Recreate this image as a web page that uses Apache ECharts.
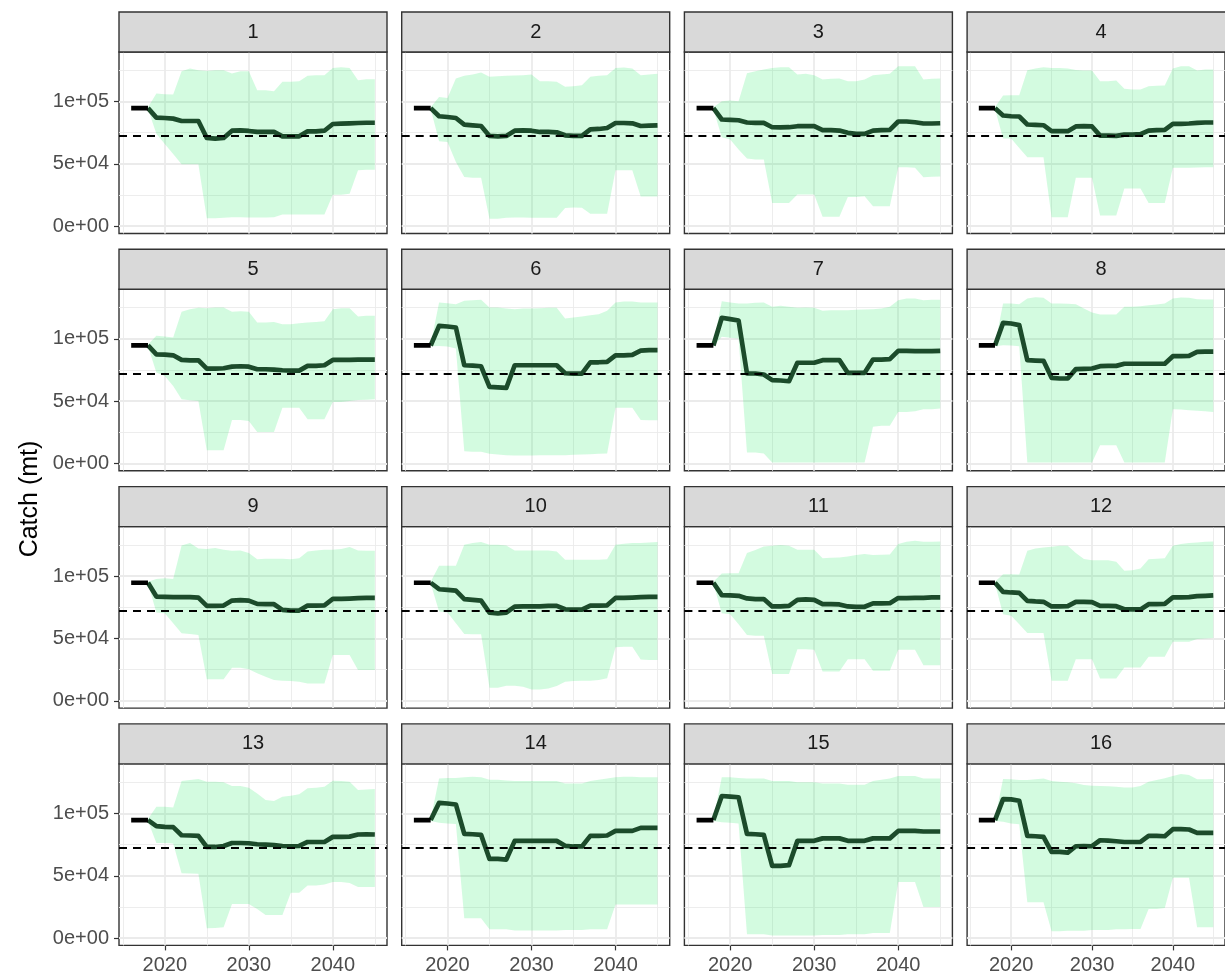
<!DOCTYPE html>
<html><head><meta charset="utf-8">
<script src="https://cdn.jsdelivr.net/npm/echarts@6/dist/echarts.min.js"></script>
<style>html,body{margin:0;padding:0;background:#fff}#c{width:1225px;height:978px}</style>
</head><body><div id="c"></div>
<script>
// ---------- data ----------
const histYears = [2016, 2017, 2018];
const histCatch = [94700, 94700, 94700];
const projYears = [2018,2019,2020,2021,2022,2023,2024,2025,2026,2027,2028,2029,2030,2031,2032,2033,2034,2035,2036,2037,2038,2039,2040,2041,2042,2043,2044,2045];
const refCatch = 72300;
const panelNames = ['1','2','3','4','5','6','7','8','9','10','11','12','13','14','15','16'];
const xMajor = [2020, 2030, 2040];
const xMinor = [2015, 2025, 2035, 2045];
const xTickLabels = ['2020', '2030', '2040'];
const yMajor = [0, 50000, 100000];
const yMinor = [25000, 75000, 125000];
const yTickLabels = ['0e+00', '5e+04', '1e+05'];
const axisTitle = 'Catch (mt)';

const med1 = [94700,87100,86800,86300,84400,84400,84400,70800,70200,70800,76600,76900,76400,75600,75600,75600,72100,72100,72100,76100,76100,76600,82000,82300,82500,82800,83000,83000];
const hi1  = [95500,106400,105900,105600,124400,126500,125200,124600,125200,125200,122500,124400,124400,109100,109100,108300,115800,115800,116300,120600,121100,121100,127000,127600,127000,117100,117900,117900];
const lo1  = [94000,74200,66000,58000,49600,49600,49600,6400,6400,6700,7200,7200,7000,7000,7000,7200,9400,9400,9400,9400,9400,9400,25200,25200,26000,44800,45300,45300];

const med2 = [94700,88200,87600,86800,81500,80900,80400,72400,72100,72400,76600,76900,76600,75600,75600,75300,72900,72400,72400,77700,78000,78800,82800,82800,82500,80400,80700,80900];
const hi2  = [95500,103700,102900,118500,120600,121700,123300,119800,120300,120600,120900,121100,121700,116300,116300,115800,111800,112300,113100,119800,120600,121100,127000,127300,126500,121100,121700,122200];
const lo2  = [94000,68100,67500,51500,39400,38900,38900,5900,5900,6700,7000,7000,6700,6700,6700,6700,14500,15000,14700,9900,9900,9900,44800,44800,44800,23900,23900,23900];

const med3 = [94700,85600,85300,85000,83200,82900,82900,79400,79200,79400,80200,80200,80200,77000,77000,76700,74900,74100,74100,76700,77000,77300,84000,84000,83400,82400,82400,82600];
const hi3  = [95500,100300,100800,100300,122700,124300,125700,127000,127500,127500,121700,122200,121100,117700,118200,118500,116300,116300,117700,121100,121700,122200,128400,128400,128400,117700,118200,118500];
const lo3  = [94000,71400,69500,61500,54300,53500,53500,18700,18700,18700,25400,25400,25400,7500,7500,7500,23500,23500,24100,16000,16000,16000,47300,47300,46800,39300,39600,39800];

const med4 = [94700,88800,88200,88000,81600,81300,81000,76200,76200,76200,80000,80200,80000,72700,72700,72500,73500,73500,73800,76700,77000,77300,82100,82100,82400,82900,83200,83200];
const hi4  = [95500,104800,105100,105100,125100,126500,127500,127000,127000,126500,125400,124900,124900,116300,116300,116900,110200,109600,109600,112300,112600,112900,126500,128400,128400,124900,125700,125700];
const lo4  = [94000,70300,70300,62800,55400,55400,55400,7200,7200,7200,38800,38800,38800,8600,8600,8600,30200,30200,30200,18700,18700,18700,46800,46800,46800,47100,47300,47300];

const med5 = [94700,87600,87400,86800,83100,82800,82800,76100,76100,76400,77700,78000,77700,75600,75600,75300,74800,74500,74500,78300,78300,78800,83100,83100,83100,83300,83300,83300];
const hi5  = [95500,102400,101800,101000,121700,123800,124900,124600,125200,125200,121700,122200,121700,113100,113100,113600,111800,111800,112600,113100,113600,114200,123800,124600,124600,117900,118500,118500];
const lo5  = [94000,72900,70200,62200,51500,50700,50100,10700,10700,10700,34800,34800,34000,25200,25200,25200,44800,44800,44800,35400,35400,35400,49300,49300,50100,50900,51200,51500];

const med6 = [94700,110400,109900,109100,78800,78500,78000,61400,61100,60600,78800,78800,78800,78800,78800,78800,72400,72100,72100,81200,81200,81500,86800,86800,87100,90600,90900,90900];
const hi6  = [95500,129200,128600,127800,130500,131000,131300,125200,125200,124400,123800,124400,124400,124600,124900,124900,116300,117100,117900,119000,119800,122500,129200,130000,130000,129200,129200,129200];
const lo6  = [94000,94300,93800,92200,9900,9400,9400,7800,7200,6700,6400,6400,6400,6700,6700,6700,6700,7000,7200,7500,7800,8000,44800,44800,44800,34800,34600,34600];

const med7 = [94700,116900,115800,114700,72200,72200,71400,66900,66600,66000,80800,80800,80800,82900,82900,82900,72700,72700,72700,83400,83400,83700,90400,90400,90100,90100,90100,90400];
const hi7  = [95500,130200,129200,128400,128400,128900,129200,125700,126500,125700,124900,125100,124900,122500,123000,123000,123000,123300,123500,123800,124300,125700,131000,132400,132400,131000,131300,131300];
const lo7  = [94000,101600,100800,100300,8800,8800,8000,800,800,800,800,800,800,800,800,800,800,800,800,29400,30200,30200,41400,41400,42000,43600,43600,44100];

const med8 = [94700,112800,112300,111000,82900,82600,82400,68700,68200,68200,75700,75900,76200,78100,78300,78300,80000,80000,80000,80000,80000,80000,86100,86100,86400,89600,89800,89800];
const hi8  = [95500,128400,128400,127800,132400,133400,132900,128400,128400,128100,127800,124300,121100,119500,119500,119500,125700,125700,126200,127000,127500,128400,132400,133200,132900,131800,131600,131600];
const lo8  = [94000,94900,94600,94100,800,800,800,800,800,800,800,800,800,14700,14700,14700,800,800,800,800,800,800,43600,43300,42800,42300,42000,41400];

const med9 = [94700,83600,83300,83100,83100,83100,82800,76100,76100,76400,80400,80700,80400,77700,77500,77500,72900,72400,72400,76400,76400,76600,81700,81700,82000,82300,82500,82500];
const hi9  = [95500,97800,98400,97800,124600,126500,122200,121700,122500,121100,120300,120600,118500,113600,113900,113900,113900,113600,114400,119800,120600,121100,121100,121700,123300,120600,120300,120300];
const lo9  = [94000,70800,70200,62200,54100,53600,52800,17200,17200,17200,26500,26500,25200,22000,19300,16600,16100,15800,15300,13900,13900,13900,36700,36700,36700,24700,24700,24700];

const med10 = [94700,89500,89000,88400,81500,80900,80400,70800,70200,70800,75600,75800,75800,75800,76100,76100,73400,73200,73200,76400,76400,76600,82500,82500,82800,83100,83300,83300];
const hi10  = [95500,108300,108300,108300,125200,126500,127300,125200,125200,124600,120600,120600,120600,120600,120600,119800,113100,113100,113100,113100,113100,113600,125200,126000,126500,126500,127000,127300];
const lo10  = [94000,71600,70800,62200,53600,53300,53300,10500,10500,12100,12100,11300,9100,9100,9900,11800,15300,15800,16100,16100,16600,18000,42900,43400,43400,33200,32700,32700];

const med11 = [94700,84800,84500,84200,82100,81600,81600,75700,75700,76200,81000,81300,81000,77500,77500,77300,75700,75400,75400,78100,78100,78300,82400,82400,82600,82600,82900,82900];
const hi11  = [95500,102100,102400,102400,118500,120900,123800,124300,124900,124300,121100,121100,121100,114400,114700,115000,115800,116900,117700,116900,117100,117400,125700,127500,128400,127500,127500,127800];
const lo11  = [94000,70300,69500,61500,52700,52100,52100,21400,21400,21400,41400,41400,40900,23500,23500,23500,33400,33400,33400,24100,24100,24100,40900,40900,40900,28600,28600,28600];

const med12 = [94700,87400,86900,86600,80200,79700,79400,75700,75700,75900,79400,79400,79200,76200,76200,75900,73500,73300,73300,77500,77500,77800,82900,82900,83200,84000,84200,84500];
const hi12  = [95500,101600,101600,101300,120300,122200,123000,123500,124300,124300,118500,113700,112800,112800,112800,111500,104300,104800,106200,113600,113900,114400,124300,125700,126500,127000,127500,127800];
const lo12  = [94000,69500,68200,61500,54300,54300,54300,16000,16000,16000,33400,33400,33400,17900,17900,17900,26700,26700,26700,35300,35300,35300,47300,47300,47300,49500,50000,50300];

const med13 = [94700,89800,89200,89000,82500,82300,82000,73100,73100,73900,76300,76300,76100,75300,75000,74700,73900,73700,73900,77100,77100,77100,81200,81200,81400,83100,83300,83100];
const hi13  = [95500,105400,105400,104800,126100,126900,127700,125500,125500,125000,122000,122000,120700,116100,110700,109900,113400,114200,115300,120200,120700,121500,126300,126100,125500,118800,119300,119600];
const lo13  = [94000,76300,76300,75800,52100,51900,51600,7800,8100,8600,27400,27400,27400,23400,18500,18500,18500,36300,36300,42200,42200,43000,44900,44900,44100,40900,40900,40900];

const med14 = [94700,108500,108000,107200,83600,83300,82800,63500,63500,63000,78000,78000,78000,78000,78000,78000,74000,73500,73500,82000,82000,82300,86000,86000,86000,88400,88400,88400];
const hi14  = [95500,128000,128500,128500,129000,129500,129000,127000,127000,126500,126000,126000,126000,126000,126000,126000,124000,124000,124000,126000,127000,128000,129000,129500,129500,129000,129000,129000];
const lo14  = [94000,92500,92000,91500,16000,16000,16000,7000,7000,7000,6000,6000,6000,6000,6000,6000,6500,6500,6500,7000,7000,7000,27000,27000,27000,27000,27000,27000];

const med15 = [94700,114000,113500,113000,83600,83300,82800,58000,58000,58500,78000,78000,78000,80000,80000,80000,78000,78000,78000,80000,80000,80000,86000,86000,86000,85500,85500,85500];
const hi15  = [95500,129000,129000,128500,128000,128000,128000,126000,126000,126000,125000,125000,125000,124000,124000,124000,123000,123000,123000,126000,127000,128000,130000,130000,130000,128000,128000,128000];
const lo15  = [94000,93000,92500,92000,3000,3000,3000,2000,2000,2000,2000,2000,2000,2500,2500,2500,3000,3000,3000,4000,4000,4000,45000,45000,45000,25000,25000,25000];

const med16 = [94700,111500,111300,110200,82000,81700,81200,69100,69100,68500,73700,73900,73700,78500,78200,77700,77100,77100,77100,82000,82000,81700,87400,87400,87100,84400,84400,84400];
const hi16  = [95500,127700,127400,126900,126900,127400,128000,126100,125500,125000,124200,122800,122300,122000,121800,121500,120900,120900,122000,125500,126900,128200,130100,131700,130900,127400,127400,127700];
const lo16  = [94000,93300,91900,91400,28800,28800,28800,5400,5400,5900,5900,5900,6500,6500,6500,7000,7000,7300,7300,23400,23400,24200,48400,48400,48400,8600,8600,8600];

const medians = [med1,med2,med3,med4,med5,med6,med7,med8,med9,med10,med11,med12,med13,med14,med15,med16];
const uppers  = [hi1,hi2,hi3,hi4,hi5,hi6,hi7,hi8,hi9,hi10,hi11,hi12,hi13,hi14,hi15,hi16];
const lowers  = [lo1,lo2,lo3,lo4,lo5,lo6,lo7,lo8,lo9,lo10,lo11,lo12,lo13,lo14,lo15,lo16];

// ---------- layout & style ----------
const X_MIN = 2014.55, X_MAX = 2046.45;
const Y_MIN = -5870, Y_MAX = 139750;
const L0 = 119, T0 = 52, DX = 282.7, DY = 237.3, W = 268, H = 181.5, STRIP = 40;
const FONT = 'Liberation Sans, Arial, sans-serif';
const BAND = 'rgba(20,235,90,0.19)';
const MED = '#1C4B2B';
const GRIDC = '#EBEBEB';

const grid = [], xAxis = [], yAxis = [], series = [], graphic = [];

const gridLines = [].concat(
  xMajor.map(v => ({ xAxis: v, lineStyle: { width: 1.8 } })),
  xMinor.map(v => ({ xAxis: v, lineStyle: { width: 0.9 } })),
  yMajor.map(v => ({ yAxis: v, lineStyle: { width: 1.8 } })),
  yMinor.map(v => ({ yAxis: v, lineStyle: { width: 0.9 } }))
);

for (let k = 0; k < 16; k++) {
  const r = Math.floor(k / 4), c = k % 4;
  const left = L0 + c * DX, top = T0 + r * DY;
  const isBottom = r === 3, isLeft = c === 0;
  grid.push({ left: left, top: top, width: W, height: H, show: true, backgroundColor: '#FFFFFF',
    borderColor: '#333333', borderWidth: 1.4, containLabel: false });
  xAxis.push({ type: 'value', gridIndex: k, min: X_MIN, max: X_MAX,
    splitLine: { show: false }, axisLine: { show: false, onZero: false },
    axisTick: { show: isBottom, customValues: xMajor, length: 5, lineStyle: { color: '#333333', width: 1.2 } },
    axisLabel: { show: isBottom, customValues: xMajor, margin: 10, fontSize: 20, color: '#4D4D4D', fontFamily: FONT,
      formatter: v => { const i = xMajor.indexOf(v); return i >= 0 ? xTickLabels[i] : ''; } } });
  yAxis.push({ type: 'value', gridIndex: k, min: Y_MIN, max: Y_MAX,
    splitLine: { show: false }, axisLine: { show: false, onZero: false },
    axisTick: { show: isLeft, customValues: yMajor, length: 5, lineStyle: { color: '#333333', width: 1.2 } },
    axisLabel: { show: isLeft, customValues: yMajor, margin: 10, fontSize: 20, color: '#4D4D4D', fontFamily: FONT,
      formatter: v => { const i = yMajor.indexOf(v); return i >= 0 ? yTickLabels[i] : ''; } } });

  const up = uppers[k], lo = lowers[k], md = medians[k];
  series.push({
    type: 'custom', name: 'band' + k, xAxisIndex: k, yAxisIndex: k, z: 2, silent: true,
    data: [[projYears[0], lo[0]]],
    renderItem: function (params, api) {
      const pts = [];
      for (let i = 0; i < projYears.length; i++) pts.push(api.coord([projYears[i], up[i]]));
      for (let i = projYears.length - 1; i >= 0; i--) pts.push(api.coord([projYears[i], lo[i]]));
      return { type: 'polygon', shape: { points: pts }, style: { fill: BAND } };
    }
  });
  series.push({
    type: 'line', name: 'median' + k, xAxisIndex: k, yAxisIndex: k, z: 3, silent: true,
    showSymbol: false, symbol: 'none',
    data: projYears.map((y, i) => [y, md[i]]),
    lineStyle: { color: MED, width: 4.7, cap: 'butt', join: 'round' },
    markLine: { silent: true, symbol: ['none', 'none'], z: 6, label: { show: false }, animation: false,
      lineStyle: { color: '#000000', width: 2, type: [8, 6] },
      data: [{ yAxis: refCatch }] }
  });
  series.push({
    type: 'line', name: 'hist' + k, xAxisIndex: k, yAxisIndex: k, z: 4, silent: true,
    showSymbol: false, symbol: 'none',
    data: histYears.map((y, i) => [y, histCatch[i]]),
    lineStyle: { color: '#000000', width: 4.7, cap: 'butt', join: 'round' },
    markLine: { silent: true, symbol: ['none', 'none'], z: 1, label: { show: false }, animation: false,
      lineStyle: { color: GRIDC, type: 'solid' },
      emphasis: { disabled: true },
      data: gridLines }
  });

  graphic.push({ type: 'rect', z: 10, silent: true,
    shape: { x: left, y: top - STRIP, width: W, height: STRIP },
    style: { fill: '#D9D9D9', stroke: '#333333', lineWidth: 1.4 } });
  graphic.push({ type: 'text', z: 11, silent: true, x: left + W / 2, y: top - STRIP / 2,
    style: { text: panelNames[k], fill: '#1A1A1A', font: '20px ' + FONT, textAlign: 'center', textVerticalAlign: 'middle' } });
}

graphic.push({ type: 'text', z: 11, silent: true, x: 30, y: 499, rotation: Math.PI / 2,
  style: { text: axisTitle, fill: '#000000', font: '25px ' + FONT, textAlign: 'center', textVerticalAlign: 'middle' } });

const chart = echarts.init(document.getElementById('c'), null, { renderer: 'canvas' });
chart.setOption({
  animation: false,
  backgroundColor: '#FFFFFF',
  textStyle: { fontFamily: FONT },
  grid: grid, xAxis: xAxis, yAxis: yAxis, series: series, graphic: graphic
});
</script>
</body></html>
